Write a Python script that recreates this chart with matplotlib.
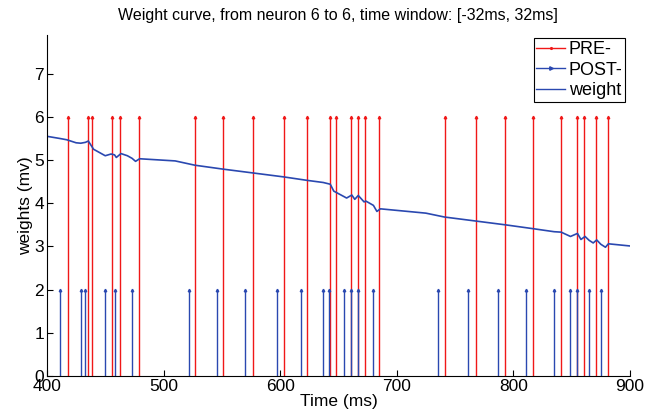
import numpy as np
import matplotlib.pyplot as plt
from matplotlib.lines import Line2D

plt.rcParams["font.family"] = ["Liberation Sans", "DejaVu Sans"]

# spike times (ms)
pre_spikes = [418, 435, 439, 456, 463, 479, 527, 551, 577, 603, 623, 643, 648,
              661, 667, 673, 685, 741, 768, 793, 817, 841, 855, 861, 871, 881]
post_spikes = [411, 429, 433, 450, 458, 473, 522, 546, 570, 597, 618, 637, 642,
               655, 661, 667, 680, 735, 761, 787, 811, 835, 849, 855, 865, 875]
pre_height = 6
post_height = 2

# weight trace (mV)
weight_t = [400, 411, 417, 425, 429, 433, 435.5, 440, 450, 455, 458, 459.5, 463.5,
            469, 473, 476, 479.5, 510, 527, 551, 577, 603, 623, 637, 643, 646,
            655, 657, 661.5, 664, 667, 672, 673.5, 680, 683, 686, 725, 741,
            767, 793, 817, 835, 841, 849, 855, 858, 861.5, 865, 868.5, 871.5,
            875, 879, 881.5, 900]
weight_v = [5.55, 5.50, 5.47, 5.40, 5.39, 5.41, 5.44, 5.25, 5.10, 5.14, 5.12, 5.06, 5.15,
            5.10, 5.04, 4.97, 5.03, 4.98, 4.88, 4.79, 4.70, 4.61, 4.53, 4.48, 4.44, 4.28,
            4.15, 4.12, 4.19, 4.09, 4.18, 4.03, 4.05, 3.95, 3.81, 3.87, 3.77, 3.68,
            3.59, 3.50, 3.41, 3.34, 3.33, 3.23, 3.30, 3.16, 3.23, 3.14, 3.08, 3.15,
            3.05, 2.98, 3.06, 3.01]

RED = "#f01818"
BLUE = "#2a48b0"

fig = plt.figure(figsize=(6.61, 4.2), dpi=100)
ax = fig.add_axes([0.071, 0.105, 0.882, 0.812])

ax.vlines(pre_spikes, 0, pre_height, color=RED, linewidth=1.0)
ax.plot(pre_spikes, [pre_height] * len(pre_spikes), ls="none", marker="^",
        ms=1.8, color=RED)
ax.vlines(post_spikes, 0, post_height, color=BLUE, linewidth=1.0)
ax.plot(post_spikes, [post_height] * len(post_spikes), ls="none", marker="^",
        ms=1.8, color=BLUE)
ax.plot(weight_t, weight_v, color=BLUE, linewidth=1.2)

ax.set_xlim(400, 900)
ax.set_ylim(0, 7.9)
ax.set_xticks(range(400, 901, 100))
ax.set_yticks(range(0, 8))
ax.tick_params(direction="in", labelsize=12.5, length=4, width=0.8, pad=2)
ax.spines["top"].set_visible(False)
ax.spines["right"].set_visible(False)
ax.set_xlabel("Time (ms)", fontsize=12.5, labelpad=0)
ax.set_ylabel("weights (mv)", fontsize=12.5, labelpad=1)
ax.set_title("Weight curve, from neuron 6 to 6, time window: [-32ms, 32ms]",
             fontsize=11.5, pad=11)

handles = [
    Line2D([], [], color=RED, lw=1.0, marker=".", ms=2.5, markevery=[1]),
    Line2D([], [], color=BLUE, lw=1.0, marker=">", ms=2.5, markevery=[1]),
    Line2D([], [], color=BLUE, lw=1.0),
]
leg = ax.legend(handles, ["PRE-", "POST-", "weight"], loc="upper right",
                bbox_to_anchor=(0.995, 0.995), fontsize=13, fancybox=False,
                framealpha=1, edgecolor="black", handlelength=1.6,
                handletextpad=0.2, borderpad=0.15, labelspacing=0.2,
                borderaxespad=0.1)
leg.get_frame().set_linewidth(0.8)

fig.savefig("out.png", dpi=100)
